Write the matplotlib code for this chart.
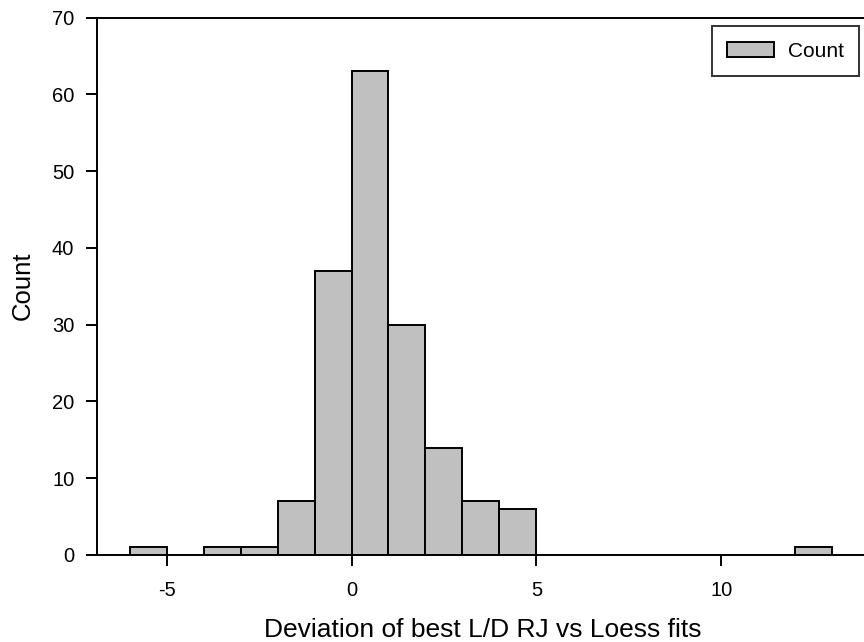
import matplotlib
matplotlib.use("Agg")
import matplotlib.pyplot as plt

# histogram bins (left edge, width 1) and counts
bin_left = [-6, -4, -3, -2, -1, 0, 1, 2, 3, 4, 12]
counts = [1, 1, 1, 7, 37, 63, 30, 14, 7, 6, 1]
x_ticks = [-5, 0, 5, 10]
y_ticks = [0, 10, 20, 30, 40, 50, 60, 70]

plt.rcParams["font.family"] = ["Liberation Sans", "DejaVu Sans"]
plt.rcParams["axes.unicode_minus"] = False

fig = plt.figure(figsize=(8.64, 6.42), dpi=100)
W, H = 864, 642
ax = fig.add_axes([96.5 / W, (H - 555) / H, (869 - 96.5) / W, (555 - 17.5) / H])

ax.bar(bin_left, counts, width=1, align="edge", color="#c0c0c0",
       edgecolor="black", linewidth=1.4, label="Count", zorder=2)

ax.set_xlim(-6.9, 14.0)
ax.set_ylim(0, 70)
ax.set_xticks(x_ticks)
ax.set_yticks(y_ticks)
ax.tick_params(direction="out", length=8, width=1.4, labelsize=14.5)
ax.tick_params(axis="x", pad=11)
ax.tick_params(axis="y", pad=8)
for side in ["left", "bottom", "top", "right"]:
    ax.spines[side].set_linewidth(1.4)

ax.set_xlabel("Deviation of best L/D RJ vs Loess fits", fontsize=19, labelpad=13)
ax.set_ylabel("Count", fontsize=18.5, labelpad=12)

leg = ax.legend(loc="upper left", bbox_to_anchor=(711.5 / W, 1 - 26 / H),
                bbox_transform=fig.transFigure, fontsize=15, frameon=True,
                fancybox=False, borderpad=0.75, handlelength=2.25, handleheight=0.7,
                handletextpad=0.65, borderaxespad=0)
leg.get_frame().set_edgecolor("black")
leg.get_frame().set_linewidth(1.4)

fig.savefig("out.png", dpi=100)
